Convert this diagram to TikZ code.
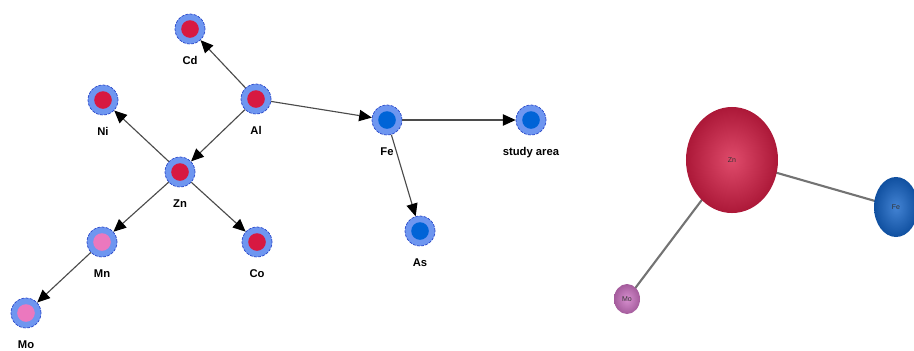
\documentclass[tikz,border=0pt]{standalone}
\usepackage{fontspec}
\setmainfont{Liberation Sans}
\usepackage{xcolor}
\definecolor{RingBlue}{RGB}{110,150,240}
\definecolor{RingDash}{RGB}{40,70,200}
\definecolor{CoreRed}{RGB}{215,25,65}
\definecolor{CorePink}{RGB}{235,120,190}
\definecolor{CoreBlue}{RGB}{0,100,215}
\definecolor{EdgeGray}{RGB}{75,75,75}
\definecolor{BallRed}{RGB}{215,30,70}
\definecolor{BallBlue}{RGB}{20,100,200}
\definecolor{BallPink}{RGB}{205,115,195}
\usepackage{tikz}
\usetikzlibrary{
  shapes, shapes.geometric,
  arrows, arrows.meta,
  positioning, calc, backgrounds
}
\tikzset{
  % Element node: light ring with dashed rim and a coloured core
  elem/.style={
    circle, minimum size=0.75cm, inner sep=0pt,
    fill=RingBlue, draw=RingDash, dash pattern=on 2pt off 1pt, line width=0.5pt,
    path picture={\fill[#1] (path picture bounding box.center) circle (0.22cm);}
  },
  % Node label
  lab/.style={font=\fontsize{8}{9}\selectfont\bfseries, text=black, solid},
  % Arrows
  arr/.style={-{Triangle[length=9pt,width=8pt,color=black]}, EdgeGray, line width=0.8pt},
  % Shaded balls of the right network
  ball/.style={ellipse, shading=radial, inner color=#1!80!white, outer color=#1!80!black,
    inner sep=0pt, font=\fontsize{5}{6}\selectfont, text=black!80},
  link/.style={draw=black!55, line width=1.5pt},
}

\begin{document}
\begin{tikzpicture}[x=0.025cm, y=-0.025cm, label distance=0.18cm]
  \useasboundingbox (0,0) rectangle (914,350);

  % Left network
  \node[elem=CoreRed,  label={[lab]below:Cd}] (cd) at (190,29) {};
  \node[elem=CoreRed,  label={[lab]below:Al}] (al) at (256,99) {};
  \node[elem=CoreRed,  label={[lab]below:Ni}] (ni) at (103,100) {};
  \node[elem=CoreBlue, label={[lab]below:Fe}] (fe) at (387,120) {};
  \node[elem=CoreBlue, label={[lab]below:study area}] (study) at (531,120) {};
  \node[elem=CoreRed,  label={[lab]below:Zn}] (zn) at (180,172) {};
  \node[elem=CorePink, label={[lab]below:Mn}] (mn) at (102,242) {};
  \node[elem=CoreRed,  label={[lab]below:Co}] (co) at (257,242) {};
  \node[elem=CoreBlue, label={[lab]below:As}] (as) at (420,231) {};
  \node[elem=CorePink, label={[lab]below:Mo}] (mo) at (26,313) {};

  \foreach \a/\b in {al/cd, al/zn, al/fe, zn/ni, zn/mn, zn/co, mn/mo, fe/study, fe/as}{
    \draw[arr] (\a) -- (\b);
  }

  % Right network
  \node[ball=BallRed,  minimum width=2.3cm, minimum height=2.65cm] (bzn) at (732,160) {Zn};
  \node[ball=BallBlue, minimum width=1.1cm, minimum height=1.5cm]  (bfe) at (896,207) {Fe};
  \node[ball=BallPink, minimum width=0.65cm, minimum height=0.75cm] (bmo) at (627,299) {Mo};

  \begin{scope}[on background layer]
    \draw[link] (bzn.center) -- (bfe.center);
    \draw[link] (bzn.center) -- (bmo.center);
  \end{scope}
\end{tikzpicture}
\end{document}
